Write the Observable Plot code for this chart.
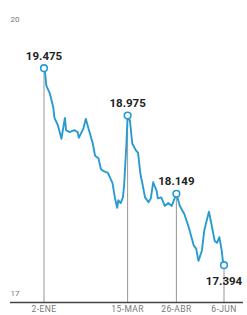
<!DOCTYPE html>
<html>
<head>
<meta charset="utf-8">
<script src="https://cdn.jsdelivr.net/npm/d3@7"></script>
<script src="https://cdn.jsdelivr.net/npm/@observablehq/plot@0.6"></script>
<style>
  html, body { margin: 0; padding: 0; background: #fff; }
  svg { display: block; }
  .xlab text { letter-spacing: 0.4px; }
</style>
</head>
<body>
<div id="chart"></div>
<script>
const dates = [
  "2019-01-02","2019-01-03","2019-01-04","2019-01-07","2019-01-10","2019-01-11","2019-01-14","2019-01-17",
  "2019-01-20","2019-01-21","2019-01-24","2019-01-28","2019-01-31","2019-02-01","2019-02-05","2019-02-07",
  "2019-02-09","2019-02-13","2019-02-15","2019-02-18","2019-02-20","2019-02-22","2019-02-26","2019-03-02",
  "2019-03-04","2019-03-06","2019-03-07","2019-03-09","2019-03-11","2019-03-12","2019-03-14","2019-03-15",
  "2019-03-17","2019-03-19","2019-03-22","2019-03-24","2019-03-26","2019-03-28","2019-03-30","2019-04-02",
  "2019-04-04","2019-04-06","2019-04-09","2019-04-10","2019-04-13","2019-04-16","2019-04-19","2019-04-22",
  "2019-04-26","2019-04-29","2019-05-03","2019-05-07","2019-05-11","2019-05-13","2019-05-15","2019-05-18",
  "2019-05-20","2019-05-24","2019-05-26","2019-05-29","2019-05-31","2019-06-02","2019-06-04","2019-06-05",
  "2019-06-06"
];
const values = [
  19.475,19.42,19.29,19.21,19.06,18.95,18.87,18.73,
  18.95,18.82,18.80,18.82,18.80,18.74,18.84,18.94,
  18.85,18.68,18.55,18.52,18.41,18.39,18.37,18.26,
  18.11,18.00,18.08,18.05,18.11,18.24,18.68,18.975,
  18.92,18.68,18.61,18.58,18.36,18.24,18.11,18.06,
  18.10,18.27,18.18,18.10,18.11,18.02,18.05,18.02,
  18.149,18.02,17.93,17.78,17.60,17.57,17.44,17.55,
  17.76,17.96,17.84,17.65,17.63,17.69,17.55,17.44,
  17.394
];
const highlightDates = ["2019-01-02","2019-03-15","2019-04-26","2019-06-06"];
const highlightValues = [19.475, 18.975, 18.149, 17.394];
const highlightLabels = ["19.475","18.975","18.149","17.394"];
const tickDates = ["2019-01-02","2019-03-15","2019-04-26","2019-06-06"];
const tickLabels = ["2-ENE","15-MAR","26-ABR","6-JUN"];
const yTicks = [17, 20];

const series = dates.map((d, i) => ({date: new Date(d), value: values[i]}));
const highlights = highlightDates.map((d, i) => ({date: new Date(d), value: highlightValues[i], label: highlightLabels[i]}));
const ticks = tickDates.map((d, i) => ({date: new Date(d), label: tickLabels[i]}));

const blue = "#2a9bd0";
const font = "Roboto, 'Noto Sans', sans-serif";

const chart = Plot.plot({
  width: 247,
  height: 315,
  marginLeft: 10,
  marginRight: 4,
  marginTop: 0,
  marginBottom: 0,
  style: {background: "#fff", fontFamily: font},
  x: {type: "utc", domain: [new Date(tickDates[0]), new Date(tickDates[3])], range: [43.5, 223.5], axis: null},
  y: {domain: [17, 20], range: [302, 18], axis: null},
  marks: [
    Plot.ruleX(highlights, {x: "date", y1: 17, y2: "value", stroke: "#8a8a8a", strokeWidth: 0.9}),
    Plot.ruleY([17], {stroke: "#444", strokeWidth: 1.6}),
    Plot.line(series, {x: "date", y: "value", stroke: blue, strokeWidth: 1.9, strokeLinejoin: "round"}),
    Plot.dot(highlights, {x: "date", y: "value", r: 3.3, fill: "#fff", stroke: blue, strokeWidth: 1.6}),
    Plot.text(highlights.slice(0, 3), {x: "date", y: "value", text: "label", dy: -12, fontSize: 11.5, fontWeight: "bold", fill: "#222"}),
    Plot.text(highlights.slice(3), {x: "date", y: "value", text: "label", dy: 16, fontSize: 11.5, fontWeight: "bold", fill: "#222"}),
    Plot.text(ticks, {x: "date", y: 17, text: "label", dy: 7, fontSize: 8.5, fill: "#777", className: "xlab"}),
    Plot.text([yTicks[1]], {y: d => d, text: d => String(d), frameAnchor: "left", textAnchor: "start", dy: 1, fontSize: 8, fill: "#777"}),
    Plot.text([yTicks[0]], {y: d => d, text: d => String(d), frameAnchor: "left", textAnchor: "start", dy: -9, fontSize: 8, fill: "#777"})
  ]
});
document.getElementById("chart").appendChild(chart);
</script>
</body>
</html>
